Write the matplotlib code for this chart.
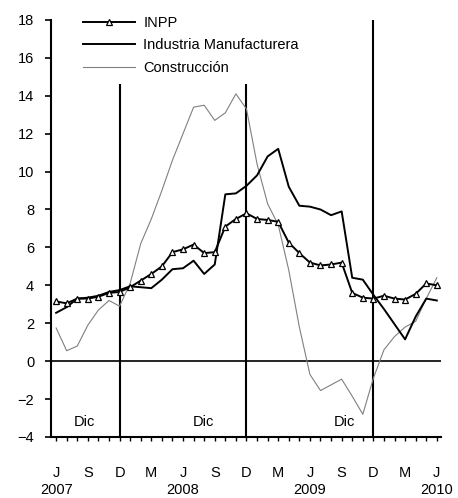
import matplotlib
matplotlib.use("Agg")
import matplotlib.pyplot as plt

plt.rcParams['font.family'] = ['Liberation Sans', 'DejaVu Sans']

# meses: 0 = junio 2007 ... 36 = junio 2010
meses = list(range(37))

inpp = [3.15, 3.05, 3.3, 3.3, 3.4, 3.6, 3.65,
        3.9, 4.25, 4.6, 5.0, 5.75, 5.9, 6.15, 5.7, 5.75, 7.1, 7.5, 7.8,
        7.5, 7.45, 7.35, 6.25, 5.7, 5.2, 5.05, 5.1, 5.2, 3.6, 3.35, 3.3,
        3.45, 3.3, 3.25, 3.55, 4.1, 4.0]

manufacturera = [2.55, 2.85, 3.3, 3.35, 3.45, 3.65, 3.75,
                 3.95, 3.9, 3.85, 4.3, 4.85, 4.9, 5.3, 4.6, 5.1, 8.8, 8.85, 9.25,
                 9.8, 10.8, 11.2, 9.2, 8.2, 8.15, 8.0, 7.7, 7.9, 4.4, 4.3, 3.5,
                 2.75, 1.95, 1.15, 2.35, 3.3, 3.2]

construccion = [1.75, 0.55, 0.8, 1.9, 2.7, 3.2, 2.9,
                4.1, 6.2, 7.5, 9.0, 10.6, 12.0, 13.4, 13.5, 12.7, 13.1, 14.1, 13.3,
                10.4, 8.3, 7.2, 4.8, 1.8, -0.7, -1.55, -1.25, -0.95, -1.85, -2.8, -0.9,
                0.6, 1.3, 1.8, 2.1, 3.3, 4.4]

# diciembres marcados
dic_meses = [6, 18, 30]
dic_alto = [14.6, 14.6, 18]
dic_texto_x = [2.7, 13.9, 27.3]

tick_meses = list(range(0, 37, 3))
tick_labels = ["J\n2007", "S", "D", "M", "J\n2008", "S", "D", "M",
               "J\n2009", "S", "D", "M", "J\n2010"]

fig = plt.figure(figsize=(4.58, 4.98), dpi=100)
ax = fig.add_axes([0.111, 0.1225, 0.852, 0.8375])

ax.plot(meses, construccion, color='0.5', lw=0.8, label='Construcción', zorder=2)
ax.plot(meses, manufacturera, color='black', lw=1.4, label='Industria Manufacturera', zorder=3)
ax.plot(meses, inpp, color='black', lw=1.4, marker='^', markersize=5,
        markerfacecolor='white', markeredgecolor='black', markeredgewidth=0.9,
        label='INPP', zorder=4)

ax.vlines(dic_meses, -4, dic_alto, color='black', lw=1.5, zorder=1)
ax.axhline(0, color='black', lw=1.2, zorder=1)
for xt in dic_texto_x:
    ax.text(xt, -3.2, "Dic", ha='center', va='center', fontsize=10.5)

ax.set_xlim(-0.5, 36.4)
ax.set_ylim(-4, 18)
ax.set_yticks(range(-4, 19, 2))
ax.set_xticks(tick_meses)
ax.set_xticklabels(tick_labels, linespacing=1.25)
ax.set_xticks(meses, minor=True)
ax.tick_params(axis='y', direction='out', length=4, width=1.2, pad=8, labelsize=10.5)
ax.tick_params(axis='x', which='both', direction='out', length=3, width=1, pad=18, labelsize=10.5)

for s in ['top', 'right']:
    ax.spines[s].set_visible(False)
for s in ['left', 'bottom']:
    ax.spines[s].set_linewidth(1.5)

h, l = ax.get_legend_handles_labels()
ax.legend(h[::-1], l[::-1], loc='upper left', bbox_to_anchor=(0.082, 1.01),
          frameon=False, fontsize=10.5, handlelength=3.6, handletextpad=0.55,
          labelspacing=0.6, borderpad=0, borderaxespad=0)

plt.savefig("out.png", dpi=100)
plt.close()
